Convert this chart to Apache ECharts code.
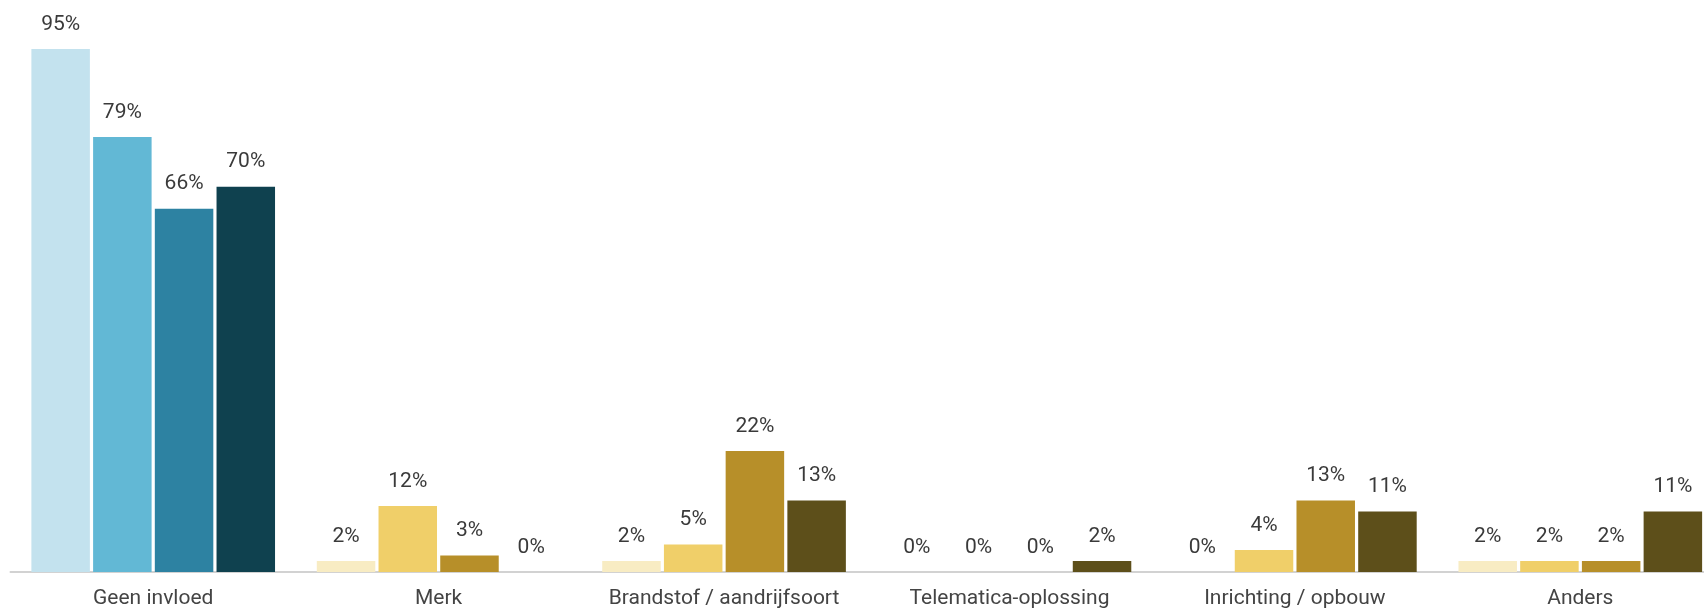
<!DOCTYPE html>
<html lang="nl">
<head>
<meta charset="utf-8">
<title>Invloed op keuze</title>
<script src="https://cdn.jsdelivr.net/npm/echarts@6/dist/echarts.min.js"></script>
<style>
  html, body { margin: 0; padding: 0; background: #ffffff; overflow: hidden; }
  /* The plot runs slightly past the right edge of the window */
  #chart { width: 1723px; height: 609px; }
</style>
</head>
<body>
<div id="chart"></div>
<script>
// Categories along the x axis
const categories = [
  'Geen invloed',
  'Merk',
  'Brandstof / aandrijfsoort',
  'Telematica-oplossing',
  'Inrichting / opbouw',
  'Anders'
];

// Percentages per group (one array per bar position within a category)
const groupA = [95, 2, 2, 0, 0, 2];
const groupB = [79, 12, 5, 0, 4, 2];
const groupC = [66, 3, 22, 0, 13, 2];
const groupD = [70, 0, 13, 2, 11, 11];

// Palettes: blue for the first category, gold for the rest
const bluePalette = ['#c3e2ee', '#62b8d5', '#2d82a2', '#0f414f'];
const goldPalette = ['#f8ecc3', '#f0cf69', '#b78f29', '#5d4f1a'];

const groups = [groupA, groupB, groupC, groupD];

const series = groups.map((values, gi) => ({
  name: 'Groep ' + (gi + 1),
  type: 'bar',
  data: values,
  barWidth: 58.5,
  barGap: '5.5%',
  itemStyle: {
    color: (p) => (p.dataIndex === 0 ? bluePalette[gi] : goldPalette[gi])
  },
  label: {
    show: true,
    position: 'top',
    distance: 14,
    formatter: '{c}%',
    fontFamily: 'Roboto',
    fontSize: 21,
    color: '#3a3a3a'
  },
  emphasis: { disabled: true }
}));

const chart = echarts.init(document.getElementById('chart'), null, { renderer: 'canvas' });
chart.setOption({
  animation: false,
  grid: { left: 10.5, top: 21.5, right: 0, height: 551 },
  xAxis: {
    type: 'category',
    data: categories,
    axisTick: { show: false },
    axisLine: { lineStyle: { color: '#d2d2d2', width: 2 } },
    axisLabel: {
      interval: 0,
      margin: 16,
      fontFamily: 'Roboto',
      fontSize: 21,
      color: '#444444'
    }
  },
  yAxis: {
    type: 'value',
    min: 0,
    max: 100,
    show: false,
    splitLine: { show: false }
  },
  series: series
});
</script>
</body>
</html>
